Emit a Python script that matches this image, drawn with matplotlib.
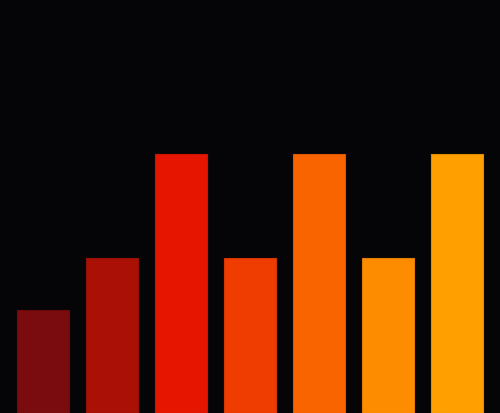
import matplotlib
matplotlib.use("Agg")
import matplotlib.pyplot as plt

categories = ["A", "B", "C", "D", "E", "F", "G"]
values = [2, 3, 5, 3, 5, 3, 5]
colors = ["#7a0c10", "#ab1006", "#e51500", "#ef3c00", "#f96400", "#fe8c00", "#ffa000"]
edge_colors = ["#6a0a0c", "#951005", "#cc1400", "#d43600", "#dc5800", "#e07c00", "#e08e00"]

fig = plt.figure(figsize=(5.0, 4.14), dpi=100, facecolor="#050407")
ax = fig.add_axes([0, 0, 1, 1])
ax.set_facecolor("#050407")
x = range(len(categories))
ax.bar(x, values, width=52/69, color=colors, edgecolor=edge_colors, linewidth=0.8)
ax.set_xlim(-43/69, (500-43)/69)
ax.set_ylim(0, 8)
ax.axis("off")
fig.savefig("out.png", dpi=100, facecolor=fig.get_facecolor())
